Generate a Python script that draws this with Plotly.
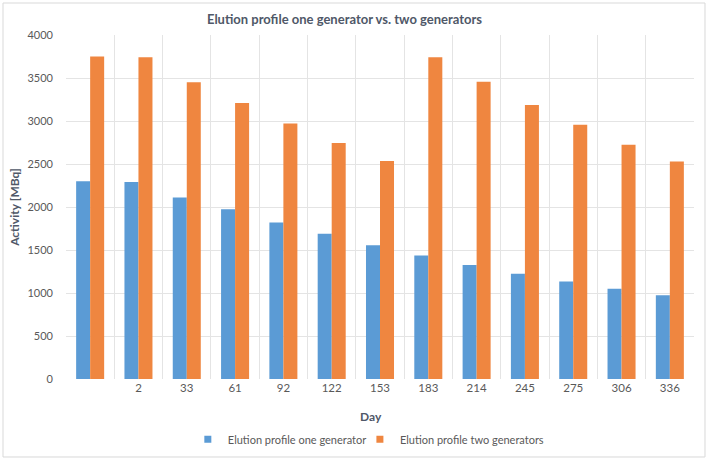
import plotly.graph_objects as go

days = [" ", "2", "33", "61", "92", "122", "153", "183", "214", "245", "275", "306", "336"]
one_gen = [2300, 2290, 2110, 1975, 1820, 1690, 1555, 1435, 1325, 1225, 1135, 1050, 975]
two_gen = [3750, 3740, 3450, 3210, 2970, 2745, 2535, 3740, 3455, 3185, 2955, 2725, 2530]
y_ticks = [0, 500, 1000, 1500, 2000, 2500, 3000, 3500, 4000]
names = ["Elution profile one generator", "Elution profile two generators"]
colors = ["#5B9BD5", "#EF8640"]

FONT = "Lato, 'Open Sans', sans-serif"
GRAY = "#595959"
TITLE = "#4F5868"
GRID = "#E4E4E4"

fig = go.Figure()
for vals, name, col in zip([one_gen, two_gen], names, colors):
    fig.add_trace(go.Bar(x=days, y=vals, name=name, showlegend=False,
                         marker=dict(color=col, line=dict(width=0))))
for i, (name, col) in enumerate(zip(names, colors)):
    fig.add_trace(go.Scatter(x=[None], y=[None], mode="markers", name=name,
                             legend="legend" if i == 0 else "legend2",
                             marker=dict(symbol="square", size=7, color=col)))

leg_common = dict(orientation="h", yanchor="top", y=-0.133, xanchor="left",
                  font=dict(size=11, color=GRAY), itemwidth=30,
                  bgcolor="rgba(0,0,0,0)")

fig.update_layout(
    width=709, height=460,
    paper_bgcolor="white", plot_bgcolor="white",
    margin=dict(l=66, r=15, t=35, b=81, autoexpand=False),
    barmode="group", bargap=0.42, bargroupgap=0,
    font=dict(family=FONT, color=GRAY, size=12),
    title=dict(text="<b>Elution profile one generator vs. two generators</b>",
               x=344.5 / 709, xref="container", xanchor="center",
               y=1 - 19 / 460, yanchor="middle",
               font=dict(size=13, color=TITLE, family=FONT)),
    legend=dict(x=0.194, **leg_common),
    legend2=dict(x=0.468, **leg_common),
    xaxis=dict(type="category", categoryorder="array", categoryarray=days,
               tickson="boundaries", showgrid=True, gridcolor=GRID, gridwidth=1,
               ticks="", showline=False, zeroline=False,
               tickfont=dict(size=11.5, color=GRAY)),
    yaxis=dict(range=[0, 4000], tickvals=y_ticks, showgrid=True, gridcolor=GRID,
               gridwidth=1, zeroline=False, showline=False, ticks="",
               ticklabelstandoff=12,
               tickfont=dict(size=11, color=GRAY),
               title=dict(text="<b>Activity [MBq]</b>", font=dict(size=12, color=TITLE), standoff=5)),
    annotations=[dict(text="<b>Day</b>", xref="paper", yref="paper",
                      x=(371 - 66) / 628, y=(379 - 416) / 344,
                      xanchor="center", yanchor="middle", showarrow=False,
                      font=dict(size=12, color=TITLE, family=FONT))],
    shapes=[dict(type="rect", xref="paper", yref="paper",
                 x0=-0.1003, x1=1.0175, y0=-0.2267, y1=1.093,
                 line=dict(color="#D9D9D9", width=1), layer="below")],
)

fig.write_html("out.html")
